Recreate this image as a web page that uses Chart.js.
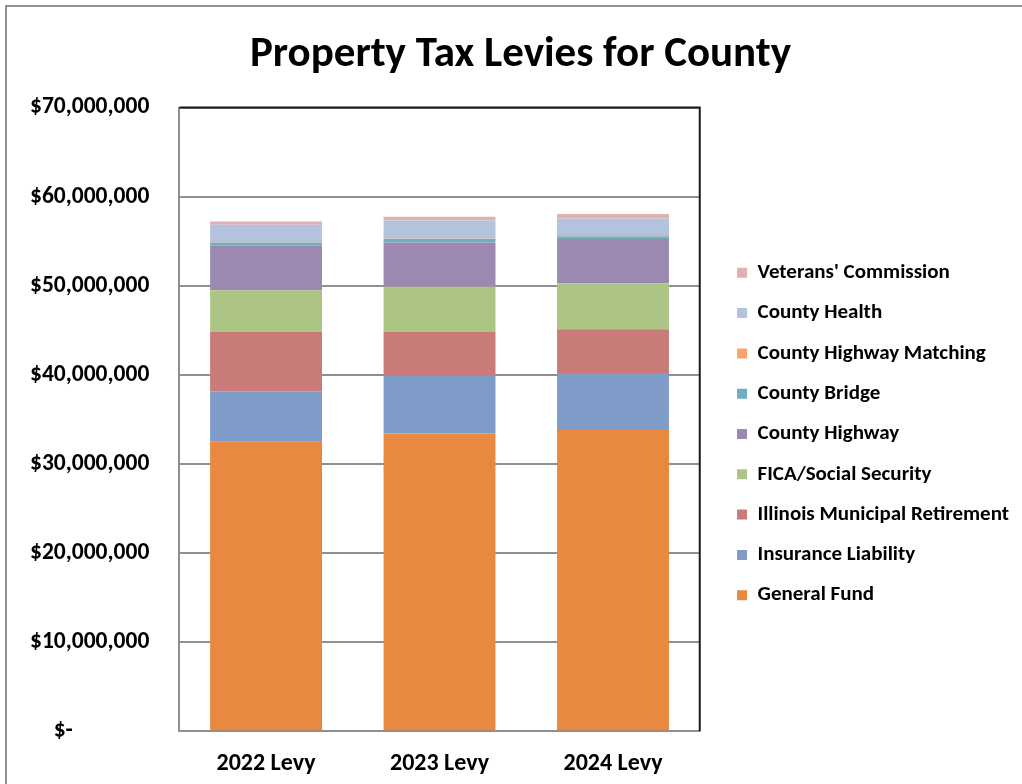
<!DOCTYPE html>
<html>
<head>
<meta charset="utf-8">
<title>Property Tax Levies for County</title>
<script src="https://cdn.jsdelivr.net/npm/chart.js@4.4.1/dist/chart.umd.min.js"></script>
<style>
  html, body { margin: 0; padding: 0; background: #fff; }
  #wrap { position: relative; width: 1022px; height: 784px; }
</style>
</head>
<body>
<div id="wrap"><canvas id="levyChart" width="1022" height="784"></canvas></div>
<script>
// levy years
const levyYears = ['2022 Levy', '2023 Levy', '2024 Levy'];

// fund amounts in dollars, one entry per levy year
const generalFund     = [32500000, 33410000, 33820000];
const insuranceLiab   = [5670000, 6480000, 6400000];
const illinoisMunRet  = [6660000, 4940000, 4910000];
const ficaSocialSec   = [4680000, 5060000, 5130000];
const countyHighway   = [4980000, 4980000, 4980000];
const countyBridge    = [370000, 370000, 300000];
const highwayMatching = [40000, 40000, 150000];
const countyHealth    = [1950000, 2060000, 1870000];
const veteransComm    = [370000, 410000, 490000];

// axis ticks
const yMax = 70000000;
const yStep = 10000000;

const FONT = 'Carlito, Lato, "Noto Sans", sans-serif';

// nudges applied after layout: legend column and title
const legendShift = { x: 18, y: 36 };
const titleShiftX = 54;

const funds = [
  { label: 'General Fund', data: generalFund, color: '#E8893F' },
  { label: 'Insurance Liability', data: insuranceLiab, color: '#7F9BC8' },
  { label: 'Illinois Municipal Retirement', data: illinoisMunRet, color: '#C97B7A' },
  { label: 'FICA/Social Security', data: ficaSocialSec, color: '#ACC585' },
  { label: 'County Highway', data: countyHighway, color: '#9B89B2' },
  { label: 'County Bridge', data: countyBridge, color: '#6DB0C6' },
  { label: 'County Highway Matching', data: highwayMatching, color: '#F8A56C' },
  { label: 'County Health', data: countyHealth, color: '#B3C3DE' },
  { label: "Veterans' Commission", data: veteransComm, color: '#E0B0B2' }
];

// accounting style: zero shows as a dash pushed left of the column
function money(v) {
  if (v === 0) return '$-' + '\u2007'.repeat(6) + '\u2008';
  return '$' + v.toLocaleString('en-US');
}

// white background, sheet edge lines, dark frame on top/right of the plot
const framePlugin = {
  id: 'frame',
  afterLayout(chart) {
    const lg = chart.legend;
    lg.left += legendShift.x;
    lg.right = chart.width;
    lg.width = lg.right - lg.left;
    lg.top += legendShift.y;
    lg.bottom += legendShift.y;
    const tb = chart.titleBlock;
    if (tb) {
      tb.left += titleShiftX;
      tb.right += titleShiftX;
    }
  },
  beforeDraw(chart) {
    const ctx = chart.ctx;
    ctx.save();
    ctx.fillStyle = '#fff';
    ctx.fillRect(0, 0, chart.width, chart.height);
    ctx.strokeStyle = '#8f8f8f';
    ctx.lineWidth = 2;
    ctx.beginPath();
    ctx.moveTo(6, chart.height);
    ctx.lineTo(6, 6);
    ctx.lineTo(chart.width, 6);
    ctx.stroke();
    ctx.restore();
  },
  afterDraw(chart) {
    const a = chart.chartArea;
    const ctx = chart.ctx;
    ctx.save();
    ctx.strokeStyle = '#1a1a1a';
    ctx.lineWidth = 2;
    ctx.beginPath();
    ctx.moveTo(a.left, a.top);
    ctx.lineTo(a.right, a.top);
    ctx.lineTo(a.right, a.bottom);
    ctx.stroke();
    ctx.restore();
  }
};

new Chart(document.getElementById('levyChart'), {
  type: 'bar',
  data: {
    labels: levyYears,
    datasets: funds.map(f => ({
      label: f.label,
      data: f.data,
      backgroundColor: f.color,
      borderWidth: 0,
      barPercentage: 0.645,
      categoryPercentage: 1
    }))
  },
  options: {
    responsive: false,
    animation: false,
    layout: { padding: { left: 0, right: 89, top: 0, bottom: -12 } },
    plugins: {
      title: {
        display: true,
        text: 'Property Tax Levies for County',
        color: '#000',
        font: { family: FONT, size: 43, weight: 'bold' },
        padding: { top: 29, bottom: 27 }
      },
      legend: {
        position: 'right',
        reverse: true,
        labels: {
          color: '#000',
          font: { family: FONT, size: 21, weight: 'bold' },
          boxWidth: 10,
          boxHeight: 10,
          padding: 19.3
        }
      },
      tooltip: { enabled: false }
    },
    scales: {
      x: {
        stacked: true,
        grid: { display: false, drawTicks: false },
        border: { display: true, color: '#8f8f8f', width: 2 },
        ticks: {
          color: '#000',
          font: { family: FONT, size: 24, weight: 'bold' },
          padding: 18
        }
      },
      y: {
        stacked: true,
        min: 0,
        max: yMax,
        grid: { color: '#8f8f8f', lineWidth: 2, drawTicks: false },
        border: { display: true, color: '#8f8f8f', width: 2 },
        ticks: {
          stepSize: yStep,
          color: '#000',
          font: { family: FONT, size: 23.5, weight: 'bold' },
          padding: 30,
          callback: v => money(v)
        }
      }
    }
  },
  plugins: [framePlugin]
});
</script>
</body>
</html>
